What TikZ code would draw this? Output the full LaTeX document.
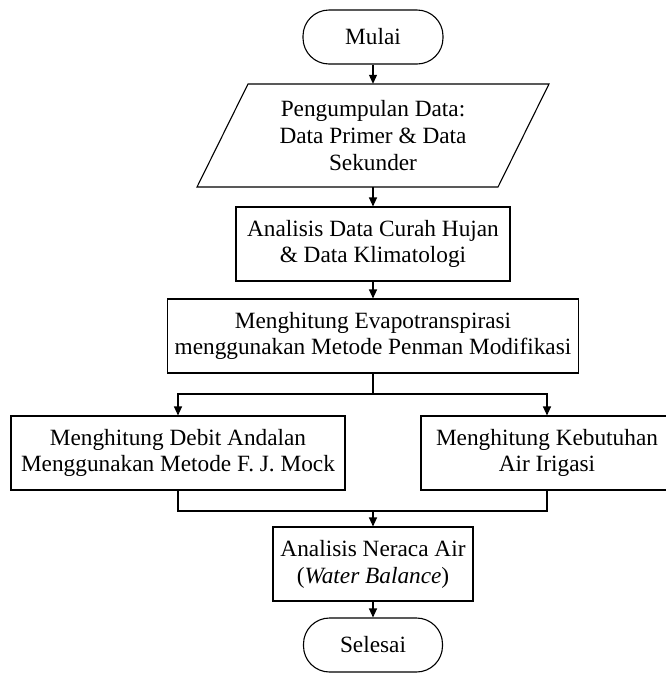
\documentclass[tikz,border=0pt]{standalone}
\usepackage{fontspec}
\setmainfont{Liberation Serif}
\usetikzlibrary{arrows.meta}
\begin{document}
\begin{tikzpicture}[x=1pt,y=-1pt,
  every node/.style={font=\fontsize{23.3}{26.8}\selectfont, align=center, inner sep=0pt},
  boxnode/.style={draw, line width=1.1pt, rectangle},
  termnode/.style={draw, line width=1.1pt, rectangle, rounded corners=26pt},
  conn/.style={line width=1.1pt},
  arr/.style={line width=1.1pt, -{Triangle[length=9pt,width=8pt]}}]
\useasboundingbox (0,0) rectangle (666,673);
\fill[white] (0,0) rectangle (666,673);

\node[termnode, minimum width=140pt, minimum height=54pt] (mulai) at (373,37) {Mulai};

\node[minimum width=250pt, minimum height=103pt] (data) at (373,135.5) {Pengumpulan Data:\\Data Primer \& Data\\Sekunder};
\draw[line width=1.1pt] (248,84) -- (549,84) -- (498,187) -- (197,187) -- cycle;

\node[boxnode, minimum width=274pt, minimum height=74pt] (analisis) at (373,244) {Analisis Data Curah Hujan\\\& Data Klimatologi};

\node[boxnode, minimum width=411pt, minimum height=74pt] (evapo) at (373,336) {Menghitung Evapotranspirasi\\menggunakan Metode Penman Modifikasi};

\node[boxnode, minimum width=334pt, minimum height=74pt] (debit) at (178,453) {Menghitung Debit Andalan\\Menggunakan Metode F. J. Mock};

\node[boxnode, minimum width=252pt, minimum height=74pt] (keb) at (547,453) {Menghitung Kebutuhan\\Air Irigasi};

\node[boxnode, minimum width=200pt, minimum height=74pt] (neraca) at (373,564) {Analisis Neraca Air\\(\textit{Water Balance})};

\node[termnode, minimum width=139pt, minimum height=54pt] (selesai) at (373,645) {Selesai};

\coordinate (split) at (373,394);
\coordinate (merge) at (373,511);

\draw[arr] (mulai.south) -- (data.north);
\draw[arr] (data.south) -- (analisis.north);
\draw[arr] (analisis.south) -- (evapo.north);
\draw[conn] (evapo.south) -- (split);
\draw[arr] (split) -| (debit.north);
\draw[arr] (split) -| (keb.north);
\draw[conn] (debit.south) |- (merge);
\draw[conn] (keb.south) |- (merge);
\draw[arr] (merge) -- (neraca.north);
\draw[arr] (neraca.south) -- (selesai.north);
\end{tikzpicture}
\end{document}
